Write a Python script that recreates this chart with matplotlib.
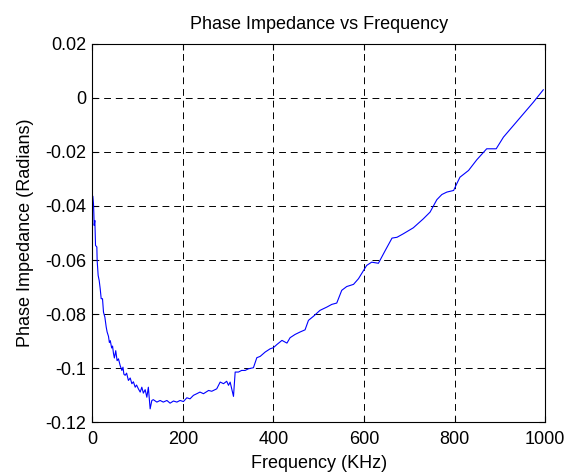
import matplotlib
matplotlib.use("Agg")
import matplotlib.pyplot as plt
from matplotlib.ticker import FormatStrFormatter

# frequency (KHz) and phase (radians)
freq = [
    1.5, 2.9, 3.7, 4.4, 5.9, 7.4, 10.3, 11, 13.2, 15.5, 17.7, 19.9, 22.8, 25, 28,
    31, 33, 36, 38, 40, 43, 45, 47, 49, 52, 55, 58, 61.8, 65.5, 68, 70, 72.8, 76,
    80, 84, 87.6, 91, 95, 98, 102, 106, 109.6, 113, 117, 120.7, 124, 128, 131.7,
    135, 142.8, 150, 157, 165, 172, 179.5, 187, 194, 201.5, 209, 216, 223.6, 231,
    238, 245.7, 257, 264, 275, 282.6, 290, 297, 301, 304.6, 312, 315.7, 323, 330,
    337.7, 345, 356, 363.5, 371, 382, 393, 400, 408, 419, 430, 437, 448, 459, 470,
    477.5, 488.5, 503, 518, 529, 540, 551, 562, 577, 588, 599, 606, 617, 632, 647,
    662, 673, 687, 709, 731, 746, 761, 772, 783, 798, 805, 812, 831, 849, 871, 892,
    908, 930, 952, 974, 996,
]
phase = [
    -0.0365, -0.0392, -0.0429, -0.0472, -0.0454, -0.0546, -0.0552, -0.0602,
    -0.0657, -0.0676, -0.0706, -0.0743, -0.0743, -0.0793, -0.0811,
    -0.0848, -0.0866, -0.0882, -0.0905, -0.0898, -0.0925, -0.0918, -0.0945,
    -0.0962, -0.0935, -0.0972, -0.0965, -0.0990, -0.1008, -0.0996, -0.1022,
    -0.1026, -0.1018, -0.1045, -0.1036, -0.1057, -0.1050, -0.1070, -0.1062,
    -0.1076, -0.1088, -0.1070, -0.1092, -0.1079, -0.1107, -0.1070, -0.1150,
    -0.1119, -0.1116, -0.1125, -0.1119, -0.1125, -0.1119, -0.1129, -0.1121,
    -0.1125, -0.1119, -0.1123, -0.1109, -0.1113, -0.1100, -0.1094, -0.1088,
    -0.1094, -0.1082, -0.1085, -0.1076, -0.1051, -0.1057, -0.1048, -0.1063,
    -0.1051, -0.1104, -0.1014, -0.1014, -0.1008, -0.1008, -0.1002, -0.0998,
    -0.0961, -0.0956, -0.0940, -0.0928, -0.0924, -0.0912, -0.0897, -0.0907,
    -0.0887, -0.0875, -0.0866, -0.0858, -0.0823, -0.0808, -0.0786, -0.0774,
    -0.0764, -0.0759, -0.0712, -0.0698, -0.0690, -0.0669, -0.0639, -0.0620,
    -0.0608, -0.0612, -0.0565, -0.0519, -0.0516, -0.0503, -0.0481, -0.0448,
    -0.0423, -0.0377, -0.0358, -0.0349, -0.0343, -0.0318, -0.0294, -0.0269,
    -0.0230, -0.0189, -0.0189, -0.0146, -0.0103, -0.0060, -0.0017, 0.0029,
]

xticks = [0, 200, 400, 600, 800, 1000]
yticks = [-0.12, -0.1, -0.08, -0.06, -0.04, -0.02, 0, 0.02]

plt.rcParams["font.family"] = ["Liberation Sans", "DejaVu Sans"]
plt.rcParams["axes.unicode_minus"] = False

fig = plt.figure(figsize=(5.69, 4.73), dpi=100)
ax = fig.add_axes([0.162, 0.107, 0.796, 0.801])

ax.plot(freq, phase, color="#0000ff", linewidth=0.8)

ax.set_xlim(0, 1000)
ax.set_ylim(-0.12, 0.02)
ax.set_xticks(xticks)
ax.set_yticks(yticks)
ax.yaxis.set_major_formatter(FormatStrFormatter("%g"))
ax.tick_params(direction="in", top=True, right=True, labelsize=13, length=4, width=0.8)
ax.tick_params(axis="x", pad=6)
ax.tick_params(axis="y", pad=4.5)
ax.grid(True, color="black", linestyle=(0, (7, 5)), linewidth=0.7)
for s in ax.spines.values():
    s.set_linewidth(0.8)

ax.set_title("Phase Impedance vs Frequency", fontsize=13, pad=10.5)
ax.set_xlabel("Frequency (KHz)", fontsize=13, labelpad=5)
ax.set_ylabel("Phase Impedance (Radians)", fontsize=13, labelpad=8)

fig.savefig("out.png", dpi=100)
